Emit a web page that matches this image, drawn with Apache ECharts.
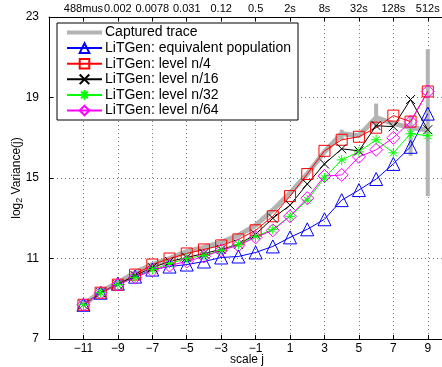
<!DOCTYPE html>
<html>
<head>
<meta charset="utf-8">
<script src="https://cdn.jsdelivr.net/npm/echarts@6/dist/echarts.min.js"></script>
<style>
  html, body { margin: 0; padding: 0; background: #fff; }
  #chart { width: 442px; height: 367px; }
</style>
</head>
<body>
<div id="chart"></div>
<script>
// scale index j
const scales = [-11, -10, -9, -8, -7, -6, -5, -4, -3, -2, -1, 0, 1, 2, 3, 4, 5, 6, 7, 8, 9];

// top axis labels, one per odd j from -11 to 9
const topTickLabels = ["488mus", "0.002", "0.0078", "0.031", "0.12", "0.5", "2s", "8s", "32s", "128s", "512s"];

// log2 Variance(j) per series
const capturedTrace = [8.7, 9.35, 9.8, 10.3, 10.7, 11.0, 11.35, 11.55, 11.8, 12.15, 12.65, 13.4, 14.25, 15.2, 16.3, 17.2, 17.1, 18.0, 17.7, 17.5, 17.4];
const equivalentPop = [8.7, 9.3, 9.75, 10.1, 10.45, 10.6, 10.7, 10.85, 11.05, 11.1, 11.3, 11.6, 12.05, 12.45, 12.95, 13.9, 14.4, 14.95, 15.7, 16.55, 18.2];
const levelN4 = [8.7, 9.3, 9.7, 10.2, 10.7, 11.0, 11.25, 11.45, 11.65, 11.95, 12.4, 13.1, 14.1, 15.2, 16.35, 16.9, 17.05, 17.5, 18.1, 17.8, 19.3];
const levelN16 = [8.7, 9.3, 9.7, 10.15, 10.55, 10.85, 11.05, 11.25, 11.45, 11.7, 12.2, 13.0, 13.65, 14.7, 15.7, 16.45, 16.35, 17.6, 17.55, 18.9, 17.4];
const levelN32 = [8.7, 9.3, 9.7, 10.05, 10.45, 10.75, 11.0, 11.15, 11.4, 11.7, 12.1, 12.45, 13.1, 13.9, 15.0, 15.9, 16.3, 16.9, 16.25, 17.2, 17.1];
const levelN64 = [8.7, 9.3, 9.7, 10.05, 10.4, 10.65, 10.85, 11.1, 11.4, 11.65, 12.05, 12.4, 13.1, 14.0, 15.1, 15.15, 16.05, 16.4, 17.0, 17.8, 19.3];

// spread of the captured trace at a few scales
const errScales = [4, 6, 8, 9];
const errLow = [16.9, 17.5, 16.1, 14.1];
const errHigh = [17.4, 18.7, 18.1, 21.4];

const chart = echarts.init(document.getElementById("chart"));

const font = "Liberation Sans, Arial, Helvetica, sans-serif";
const gray = "#b3b3b3";
const gridLine = { show: true, lineStyle: { color: "#777", width: 1, type: [1, 3] } };

const pairs = (vals) => scales.map((j, i) => [j, vals[i]]);

const lineSeries = (name, vals, color, symbol, size) => ({
  name: name,
  type: "line",
  data: pairs(vals),
  symbol: symbol,
  symbolSize: size,
  showSymbol: true,
  lineStyle: { color: color, width: 1 },
  itemStyle: { color: "transparent", borderColor: color, borderWidth: 1 },
  emphasis: { disabled: true },
  z: 3,
});

const option = {
  animation: false,
  textStyle: { fontFamily: font },
  grid: { left: 49, right: -3, top: 17, bottom: 28, outerBoundsMode: "none", containLabel: false },
  legend: {
    data: [
      {
        name: "Captured trace",
        icon: "path://M0,0L0.01,0L0.01,0.01Z M0,4L35,4L35,8L0,8Z M0,12L0.01,12L0.01,11.99Z",
        itemStyle: { color: gray, borderWidth: 0 },
      },
      "LiTGen: equivalent population",
      "LiTGen: level n/4",
      "LiTGen: level n/16",
      "LiTGen: level n/32",
      "LiTGen: level n/64",
    ],
    orient: "vertical",
    left: 57,
    top: 23,
    itemWidth: 35,
    itemHeight: 12,
    itemGap: 0.6,
    padding: [2, 7, 2, 9],
    backgroundColor: "#fff",
    borderColor: "#000",
    borderWidth: 1,
    borderRadius: 0,
    textStyle: { fontSize: 14, lineHeight: 15, color: "#000", fontFamily: font, padding: [0, 0, 0, -2] },
  },
  xAxis: [
    {
      type: "value",
      min: -13,
      max: 10,
      interval: 2,
      name: "scale j",
      nameLocation: "middle",
      nameGap: 15,
      nameMoveOverlap: false,
      nameTextStyle: { fontSize: 12, color: "#000", verticalAlign: "top" },
      axisLine: { onZero: false, lineStyle: { color: "#000", width: 1 } },
      axisTick: { inside: true, length: 4, lineStyle: { color: "#000" } },
      axisLabel: {
        color: "#000",
        fontSize: 12,
        margin: 4,
        showMinLabel: false,
        showMaxLabel: false,
        formatter: (v) => (v < 0 ? "\u2212" + Math.abs(v) : String(v)),
      },
      splitLine: gridLine,
    },
    {
      type: "value",
      position: "top",
      min: -13,
      max: 10,
      interval: 2,
      axisLine: { show: true, onZero: false, lineStyle: { color: "#000", width: 1 } },
      axisTick: { inside: true, length: 4, lineStyle: { color: "#000" } },
      axisLabel: {
        color: "#000",
        fontSize: 11,
        margin: 3,
        hideOverlap: false,
        showMinLabel: false,
        showMaxLabel: false,
        formatter: (v) => {
          const k = (v + 11) / 2;
          return Number.isInteger(k) && k >= 0 && k < topTickLabels.length ? topTickLabels[k] : "";
        },
      },
      splitLine: { show: false },
    },
  ],
  yAxis: {
    type: "value",
    min: 7,
    max: 23,
    interval: 4,
    name: "{a|log}{s|2}{a| Variance(j)}",
    nameLocation: "middle",
    nameGap: 25,
    nameMoveOverlap: false,
    nameRotate: 90,
    nameTextStyle: {
      rich: {
        a: { fontSize: 12, color: "#000", fontFamily: font },
        s: { fontSize: 9, color: "#000", fontFamily: font, verticalAlign: "bottom", padding: [6, 0, 0, 0] },
      },
    },
    axisLine: { show: true, onZero: false, lineStyle: { color: "#000", width: 1 } },
    axisTick: { show: true, inside: true, length: 4, lineStyle: { color: "#000" } },
    axisLabel: { color: "#000", fontSize: 12, margin: 10 },
    splitLine: gridLine,
  },
  series: [
    {
      name: "Captured trace",
      type: "line",
      data: pairs(capturedTrace),
      symbol: "none",
      lineStyle: { color: gray, width: 5 },
      itemStyle: { color: gray },
      emphasis: { disabled: true },
      z: 2,
    },
    {
      name: "spread",
      type: "custom",
      data: errScales.map((j, i) => [j, errLow[i], errHigh[i]]),
      renderItem: (params, api) => {
        const lo = api.coord([api.value(0), api.value(1)]);
        const hi = api.coord([api.value(0), api.value(2)]);
        return {
          type: "line",
          shape: { x1: lo[0], y1: lo[1], x2: hi[0], y2: hi[1] },
          style: { stroke: gray, lineWidth: 4 },
        };
      },
      z: 2,
    },
    lineSeries("LiTGen: equivalent population", equivalentPop, "#0000ff", "triangle", 13),
    lineSeries("LiTGen: level n/4", levelN4, "#ff0000", "rect", 11),
    lineSeries("LiTGen: level n/16", levelN16, "#000000", "path://M0,0L10,10M10,0L0,10", 9),
    lineSeries("LiTGen: level n/32", levelN32, "#00ff00", "path://M5,0L5,10M0,5L10,5M1.5,1.5L8.5,8.5M8.5,1.5L1.5,8.5", 10),
    lineSeries("LiTGen: level n/64", levelN64, "#ff00ff", "diamond", 13),
  ],
};

chart.setOption(option);
</script>
</body>
</html>
